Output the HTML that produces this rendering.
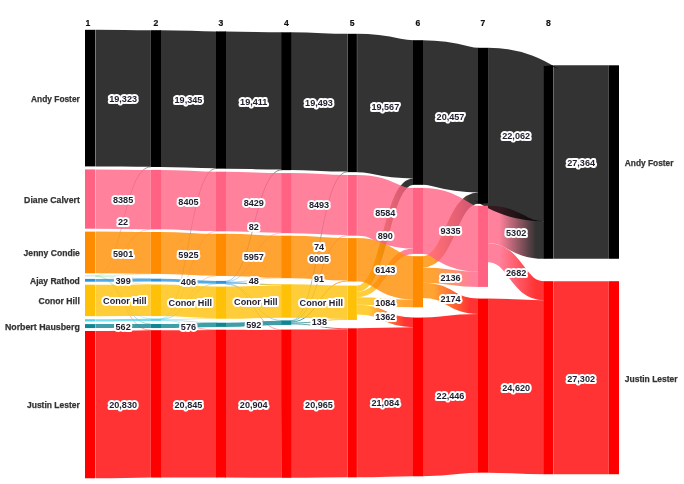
<!DOCTYPE html>
<html lang="en"><head><meta charset="utf-8"><title>Sankey</title>
<style>html,body{margin:0;padding:0;background:#fff}body{width:684px;height:484px;overflow:hidden}svg{display:block}text{font-family:"Liberation Sans",sans-serif;font-weight:bold}.nm{font-size:8.7px;fill:#333;stroke:#333;stroke-width:0.25}.cl{font-size:8.6px;fill:#111;stroke:#111;stroke-width:0.2}.lb{font-size:9.1px;fill:#1f1f2e;stroke:#fff;stroke-width:4;stroke-linejoin:round;paint-order:stroke}</style></head><body>
<svg width="684" height="484" viewBox="0 0 684 484">
<rect width="684" height="484" fill="#fff"/>
<defs>
<linearGradient id="g0TA" gradientUnits="userSpaceOnUse" x1="95.35" y1="0.00" x2="150.90" y2="0.00"><stop offset="0.2" stop-color="#a5e6b4"/><stop offset="0.85" stop-color="#000000"/></linearGradient>
<linearGradient id="g0TD" gradientUnits="userSpaceOnUse" x1="95.35" y1="0.00" x2="150.90" y2="0.00"><stop offset="0.2" stop-color="#a5e6b4"/><stop offset="0.85" stop-color="#ff6283"/></linearGradient>
<linearGradient id="g0TJ" gradientUnits="userSpaceOnUse" x1="95.35" y1="0.00" x2="150.90" y2="0.00"><stop offset="0.2" stop-color="#a5e6b4"/><stop offset="0.85" stop-color="#ff8c00"/></linearGradient>
<linearGradient id="g0TR" gradientUnits="userSpaceOnUse" x1="95.35" y1="0.00" x2="150.90" y2="0.00"><stop offset="0.2" stop-color="#a5e6b4"/><stop offset="0.85" stop-color="#2b96de"/></linearGradient>
<linearGradient id="g0TC" gradientUnits="userSpaceOnUse" x1="95.35" y1="0.00" x2="150.90" y2="0.00"><stop offset="0.2" stop-color="#a5e6b4"/><stop offset="0.85" stop-color="#ffc107"/></linearGradient>
<linearGradient id="g0TY" gradientUnits="userSpaceOnUse" x1="95.35" y1="0.00" x2="150.90" y2="0.00"><stop offset="0.2" stop-color="#a5e6b4"/><stop offset="0.85" stop-color="#55d3e6"/></linearGradient>
<linearGradient id="g0TN" gradientUnits="userSpaceOnUse" x1="95.35" y1="0.00" x2="150.90" y2="0.00"><stop offset="0.2" stop-color="#a5e6b4"/><stop offset="0.85" stop-color="#0f8793"/></linearGradient>
<linearGradient id="g0TL" gradientUnits="userSpaceOnUse" x1="95.35" y1="0.00" x2="150.90" y2="0.00"><stop offset="0.2" stop-color="#a5e6b4"/><stop offset="0.85" stop-color="#ff0000"/></linearGradient>
<linearGradient id="g1YA" gradientUnits="userSpaceOnUse" x1="160.50" y1="0.00" x2="216.40" y2="0.00"><stop offset="0.2" stop-color="#55d3e6"/><stop offset="0.85" stop-color="#000000"/></linearGradient>
<linearGradient id="g1YD" gradientUnits="userSpaceOnUse" x1="160.50" y1="0.00" x2="216.40" y2="0.00"><stop offset="0.2" stop-color="#55d3e6"/><stop offset="0.85" stop-color="#ff6283"/></linearGradient>
<linearGradient id="g1YJ" gradientUnits="userSpaceOnUse" x1="160.50" y1="0.00" x2="216.40" y2="0.00"><stop offset="0.2" stop-color="#55d3e6"/><stop offset="0.85" stop-color="#ff8c00"/></linearGradient>
<linearGradient id="g1YR" gradientUnits="userSpaceOnUse" x1="160.50" y1="0.00" x2="216.40" y2="0.00"><stop offset="0.2" stop-color="#55d3e6"/><stop offset="0.85" stop-color="#2b96de"/></linearGradient>
<linearGradient id="g1YC" gradientUnits="userSpaceOnUse" x1="160.50" y1="0.00" x2="216.40" y2="0.00"><stop offset="0.2" stop-color="#55d3e6"/><stop offset="0.85" stop-color="#ffc107"/></linearGradient>
<linearGradient id="g1YN" gradientUnits="userSpaceOnUse" x1="160.50" y1="0.00" x2="216.40" y2="0.00"><stop offset="0.2" stop-color="#55d3e6"/><stop offset="0.85" stop-color="#0f8793"/></linearGradient>
<linearGradient id="g1YL" gradientUnits="userSpaceOnUse" x1="160.50" y1="0.00" x2="216.40" y2="0.00"><stop offset="0.2" stop-color="#55d3e6"/><stop offset="0.85" stop-color="#ff0000"/></linearGradient>
<linearGradient id="g2RA" gradientUnits="userSpaceOnUse" x1="225.50" y1="0.00" x2="282.00" y2="0.00"><stop offset="0.2" stop-color="#2b96de"/><stop offset="0.85" stop-color="#000000"/></linearGradient>
<linearGradient id="g2RD" gradientUnits="userSpaceOnUse" x1="225.50" y1="0.00" x2="282.00" y2="0.00"><stop offset="0.2" stop-color="#2b96de"/><stop offset="0.85" stop-color="#ff6283"/></linearGradient>
<linearGradient id="g2RJ" gradientUnits="userSpaceOnUse" x1="225.50" y1="0.00" x2="282.00" y2="0.00"><stop offset="0.2" stop-color="#2b96de"/><stop offset="0.85" stop-color="#ff8c00"/></linearGradient>
<linearGradient id="g2RC" gradientUnits="userSpaceOnUse" x1="225.50" y1="0.00" x2="282.00" y2="0.00"><stop offset="0.2" stop-color="#2b96de"/><stop offset="0.85" stop-color="#ffc107"/></linearGradient>
<linearGradient id="g2RN" gradientUnits="userSpaceOnUse" x1="225.50" y1="0.00" x2="282.00" y2="0.00"><stop offset="0.2" stop-color="#2b96de"/><stop offset="0.85" stop-color="#0f8793"/></linearGradient>
<linearGradient id="g2RL" gradientUnits="userSpaceOnUse" x1="225.50" y1="0.00" x2="282.00" y2="0.00"><stop offset="0.2" stop-color="#2b96de"/><stop offset="0.85" stop-color="#ff0000"/></linearGradient>
<linearGradient id="g3NA" gradientUnits="userSpaceOnUse" x1="290.70" y1="0.00" x2="347.35" y2="0.00"><stop offset="0.2" stop-color="#0f8793"/><stop offset="0.85" stop-color="#000000"/></linearGradient>
<linearGradient id="g3ND" gradientUnits="userSpaceOnUse" x1="290.70" y1="0.00" x2="347.35" y2="0.00"><stop offset="0.2" stop-color="#0f8793"/><stop offset="0.85" stop-color="#ff6283"/></linearGradient>
<linearGradient id="g3NJ" gradientUnits="userSpaceOnUse" x1="290.70" y1="0.00" x2="347.35" y2="0.00"><stop offset="0.2" stop-color="#0f8793"/><stop offset="0.85" stop-color="#ff8c00"/></linearGradient>
<linearGradient id="g3NC" gradientUnits="userSpaceOnUse" x1="290.70" y1="0.00" x2="347.35" y2="0.00"><stop offset="0.2" stop-color="#0f8793"/><stop offset="0.85" stop-color="#ffc107"/></linearGradient>
<linearGradient id="g3NL" gradientUnits="userSpaceOnUse" x1="290.70" y1="0.00" x2="347.35" y2="0.00"><stop offset="0.2" stop-color="#0f8793"/><stop offset="0.85" stop-color="#ff0000"/></linearGradient>
<linearGradient id="g4CA" gradientUnits="userSpaceOnUse" x1="357.10" y1="0.00" x2="413.50" y2="0.00"><stop offset="0.2" stop-color="#ffc107"/><stop offset="0.85" stop-color="#000000"/></linearGradient>
<linearGradient id="g4CD" gradientUnits="userSpaceOnUse" x1="357.10" y1="0.00" x2="413.50" y2="0.00"><stop offset="0.2" stop-color="#ffc107"/><stop offset="0.85" stop-color="#ff6283"/></linearGradient>
<linearGradient id="g4CJ" gradientUnits="userSpaceOnUse" x1="357.10" y1="0.00" x2="413.50" y2="0.00"><stop offset="0.2" stop-color="#ffc107"/><stop offset="0.85" stop-color="#ff8c00"/></linearGradient>
<linearGradient id="g4CL" gradientUnits="userSpaceOnUse" x1="357.10" y1="0.00" x2="413.50" y2="0.00"><stop offset="0.2" stop-color="#ffc107"/><stop offset="0.85" stop-color="#ff0000"/></linearGradient>
<linearGradient id="g5JA" gradientUnits="userSpaceOnUse" x1="422.50" y1="0.00" x2="478.50" y2="0.00"><stop offset="0.2" stop-color="#ff8c00"/><stop offset="0.85" stop-color="#000000"/></linearGradient>
<linearGradient id="g5JD" gradientUnits="userSpaceOnUse" x1="422.50" y1="0.00" x2="478.50" y2="0.00"><stop offset="0.2" stop-color="#ff8c00"/><stop offset="0.85" stop-color="#ff6283"/></linearGradient>
<linearGradient id="g5JL" gradientUnits="userSpaceOnUse" x1="422.50" y1="0.00" x2="478.50" y2="0.00"><stop offset="0.2" stop-color="#ff8c00"/><stop offset="0.85" stop-color="#ff0000"/></linearGradient>
<linearGradient id="g6DA" gradientUnits="userSpaceOnUse" x1="488.05" y1="0.00" x2="544.30" y2="0.00"><stop offset="0.2" stop-color="#ff6283"/><stop offset="0.85" stop-color="#000000"/></linearGradient>
<linearGradient id="g6DL" gradientUnits="userSpaceOnUse" x1="488.05" y1="0.00" x2="544.30" y2="0.00"><stop offset="0.2" stop-color="#ff6283"/><stop offset="0.85" stop-color="#ff0000"/></linearGradient>
</defs>
<g fill="none" stroke-opacity="0.8">
<path d="M95.35,275.58C123.12,275.58 123.12,166.89 150.90,166.89" stroke="url(#g0TA)" stroke-width="0.45"/>
<path d="M95.35,275.73C123.12,275.73 123.12,229.25 150.90,229.25" stroke="url(#g0TD)" stroke-width="0.45"/>
<path d="M95.35,275.88C123.12,275.88 123.12,273.80 150.90,273.80" stroke="url(#g0TJ)" stroke-width="0.45"/>
<path d="M95.35,275.99C123.12,275.99 123.12,278.72 150.90,278.72" stroke="url(#g0TR)" stroke-width="0.45"/>
<path d="M95.35,276.07C123.12,276.07 123.12,284.55 150.90,284.55" stroke="url(#g0TC)" stroke-width="0.45"/>
<path d="M95.35,276.14C123.12,276.14 123.12,318.62 150.90,318.62" stroke="url(#g0TY)" stroke-width="0.45"/>
<path d="M95.35,276.21C123.12,276.21 123.12,324.05 150.90,324.05" stroke="url(#g0TN)" stroke-width="0.45"/>
<path d="M95.35,276.31C123.12,276.31 123.12,330.25 150.90,330.25" stroke="url(#g0TL)" stroke-width="0.45"/>
<path d="M160.50,318.83C188.45,318.83 188.45,168.40 216.40,168.40" stroke="url(#g1YA)" stroke-width="0.47"/>
<path d="M160.50,319.15C188.45,319.15 188.45,231.21 216.40,231.21" stroke="url(#g1YD)" stroke-width="0.45"/>
<path d="M160.50,319.35C188.45,319.35 188.45,275.80 216.40,275.80" stroke="url(#g1YJ)" stroke-width="0.45"/>
<path d="M160.50,319.48C188.45,319.48 188.45,283.79 216.40,283.79" stroke="url(#g1YR)" stroke-width="0.45"/>
<path d="M160.50,319.77C188.45,319.77 188.45,318.43 216.40,318.43" stroke="url(#g1YC)" stroke-width="0.53"/>
<path d="M95.35,320.33C123.12,320.33 123.12,319.77 150.90,319.77" stroke="#55d3e6" stroke-width="2.26"/>
<path d="M160.50,320.09C188.45,320.09 188.45,322.76 216.40,322.76" stroke="url(#g1YN)" stroke-width="0.45"/>
<path d="M160.50,320.36C188.45,320.36 188.45,329.91 216.40,329.91" stroke="url(#g1YL)" stroke-width="0.45"/>
<path d="M225.50,281.19C253.75,281.19 253.75,169.83 282.00,169.83" stroke="url(#g2RA)" stroke-width="0.58"/>
<path d="M225.50,281.71C253.75,281.71 253.75,232.92 282.00,232.92" stroke="url(#g2RD)" stroke-width="0.45"/>
<path d="M225.50,282.10C253.75,282.10 253.75,277.99 282.00,277.99" stroke="url(#g2RJ)" stroke-width="0.45"/>
<path d="M95.35,280.31C123.12,280.31 123.12,280.16 150.90,280.16" stroke="#2b96de" stroke-width="2.82"/>
<path d="M160.50,280.14C188.45,280.14 188.45,282.34 216.40,282.34" stroke="#2b96de" stroke-width="2.87"/>
<path d="M225.50,282.91C253.75,282.91 253.75,284.94 282.00,284.94" stroke="url(#g2RC)" stroke-width="1.27"/>
<path d="M225.50,283.71C253.75,283.71 253.75,320.57 282.00,320.57" stroke="url(#g2RN)" stroke-width="0.45"/>
<path d="M225.50,284.10C253.75,284.10 253.75,329.82 282.00,329.82" stroke="url(#g2RL)" stroke-width="0.45"/>
<path d="M290.70,320.66C319.02,320.66 319.02,171.88 347.35,171.88" stroke="url(#g3NA)" stroke-width="0.52"/>
<path d="M290.70,321.24C319.02,321.24 319.02,235.37 347.35,235.37" stroke="url(#g3ND)" stroke-width="0.64"/>
<path d="M290.70,322.05C319.02,322.05 319.02,281.04 347.35,281.04" stroke="url(#g3NJ)" stroke-width="0.98"/>
<path d="M290.70,323.03C319.02,323.03 319.02,319.46 347.35,319.46" stroke="url(#g3NC)" stroke-width="0.98"/>
<path d="M95.35,326.09C123.12,326.09 123.12,326.09 150.90,326.09" stroke="#0f8793" stroke-width="3.97"/>
<path d="M160.50,326.04C188.45,326.04 188.45,324.85 216.40,324.85" stroke="#0f8793" stroke-width="4.07"/>
<path d="M225.50,324.79C253.75,324.79 253.75,322.83 282.00,322.83" stroke="#0f8793" stroke-width="4.19"/>
<path d="M290.70,323.94C319.02,323.94 319.02,328.72 347.35,328.72" stroke="url(#g3NL)" stroke-width="0.84"/>
<path d="M357.10,288.75C385.30,288.75 385.30,181.68 413.50,181.68" stroke="url(#g4CA)" stroke-width="6.29"/>
<path d="M357.10,294.55C385.30,294.55 385.30,251.24 413.50,251.24" stroke="url(#g4CD)" stroke-width="5.31"/>
<path d="M357.10,301.03C385.30,301.03 385.30,303.46 413.50,303.46" stroke="url(#g4CJ)" stroke-width="7.66"/>
<path d="M95.35,300.43C123.12,300.43 123.12,300.34 150.90,300.34" stroke="#ffc107" stroke-width="31.46"/>
<path d="M160.50,300.28C188.45,300.28 188.45,302.38 216.40,302.38" stroke="#ffc107" stroke-width="31.57"/>
<path d="M225.50,302.65C253.75,302.65 253.75,301.62 282.00,301.62" stroke="#ffc107" stroke-width="32.10"/>
<path d="M290.70,300.99C319.02,300.99 319.02,302.29 347.35,302.29" stroke="#ffc107" stroke-width="33.37"/>
<path d="M357.10,309.68C385.30,309.68 385.30,322.41 413.50,322.41" stroke="url(#g4CL)" stroke-width="9.63"/>
<path d="M422.50,261.87C450.50,261.87 450.50,198.10 478.50,198.10" stroke="url(#g5JA)" stroke-width="11.35"/>
<path d="M422.50,275.10C450.50,275.10 450.50,279.35 478.50,279.35" stroke="url(#g5JD)" stroke-width="15.10"/>
<path d="M95.35,252.46C123.12,252.46 123.12,252.86 150.90,252.86" stroke="#ff8c00" stroke-width="41.72"/>
<path d="M160.50,252.94C188.45,252.94 188.45,254.74 216.40,254.74" stroke="#ff8c00" stroke-width="41.89"/>
<path d="M225.50,254.86C253.75,254.86 253.75,256.76 282.00,256.76" stroke="#ff8c00" stroke-width="42.12"/>
<path d="M290.70,256.93C319.02,256.93 319.02,259.33 347.35,259.33" stroke="#ff8c00" stroke-width="42.46"/>
<path d="M357.10,259.82C385.30,259.82 385.30,277.92 413.50,277.92" stroke="#ff8c00" stroke-width="43.43"/>
<path d="M422.50,290.33C450.50,290.33 450.50,306.29 478.50,306.29" stroke="url(#g5JL)" stroke-width="15.37"/>
<path d="M488.05,224.54C516.17,224.54 516.17,240.02 544.30,240.02" stroke="url(#g6DA)" stroke-width="37.49"/>
<path d="M95.35,199.04C123.12,199.04 123.12,199.54 150.90,199.54" stroke="#ff6283" stroke-width="59.28"/>
<path d="M160.50,199.61C188.45,199.61 188.45,201.41 216.40,201.41" stroke="#ff6283" stroke-width="59.42"/>
<path d="M225.50,201.50C253.75,201.50 253.75,202.90 282.00,202.90" stroke="#ff6283" stroke-width="59.59"/>
<path d="M290.70,203.12C319.02,203.12 319.02,205.02 347.35,205.02" stroke="#ff6283" stroke-width="60.05"/>
<path d="M357.10,205.34C385.30,205.34 385.30,218.24 413.50,218.24" stroke="#ff6283" stroke-width="60.69"/>
<path d="M422.50,220.90C450.50,220.90 450.50,238.80 478.50,238.80" stroke="#ff6283" stroke-width="66.00"/>
<path d="M488.05,252.77C516.17,252.77 516.17,290.68 544.30,290.68" stroke="url(#g6DL)" stroke-width="18.96"/>
<path d="M95.35,404.63C123.12,404.63 123.12,403.94 150.90,403.94" stroke="#ff0000" stroke-width="147.27"/>
<path d="M160.50,403.89C188.45,403.89 188.45,403.80 216.40,403.80" stroke="#ff0000" stroke-width="147.37"/>
<path d="M225.50,403.60C253.75,403.60 253.75,403.93 282.00,403.93" stroke="#ff0000" stroke-width="147.79"/>
<path d="M290.70,403.71C319.02,403.71 319.02,403.25 347.35,403.25" stroke="#ff0000" stroke-width="148.22"/>
<path d="M357.10,402.83C385.30,402.83 385.30,401.76 413.50,401.76" stroke="#ff0000" stroke-width="149.06"/>
<path d="M422.50,396.95C450.50,396.95 450.50,393.32 478.50,393.32" stroke="#ff0000" stroke-width="158.69"/>
<path d="M488.05,385.63C516.17,385.63 516.17,387.19 544.30,387.19" stroke="#ff0000" stroke-width="174.06"/>
<path d="M553.40,377.71C581.14,377.71 581.14,377.71 608.88,377.71" stroke="#ff0000" stroke-width="193.03"/>
<path d="M95.35,98.11C123.12,98.11 123.12,98.51 150.90,98.51" stroke="#000000" stroke-width="136.61"/>
<path d="M160.50,98.58C188.45,98.58 188.45,99.78 216.40,99.78" stroke="#000000" stroke-width="136.77"/>
<path d="M225.50,100.02C253.75,100.02 253.75,100.92 282.00,100.92" stroke="#000000" stroke-width="137.24"/>
<path d="M290.70,101.21C319.02,101.21 319.02,102.71 347.35,102.71" stroke="#000000" stroke-width="137.82"/>
<path d="M357.10,102.97C385.30,102.97 385.30,109.37 413.50,109.37" stroke="#000000" stroke-width="138.34"/>
<path d="M422.50,112.52C450.50,112.52 450.50,120.12 478.50,120.12" stroke="#000000" stroke-width="144.63"/>
<path d="M488.05,125.79C516.17,125.79 516.17,143.29 544.30,143.29" stroke="#000000" stroke-width="155.98"/>
<path d="M553.40,162.03C581.14,162.03 581.14,162.03 608.88,162.03" stroke="#000000" stroke-width="193.46"/>
</g>
<g>
<rect x="85.00" y="29.80" width="10.00" height="136.61" fill="#000000"/>
<rect x="85.00" y="169.40" width="10.00" height="59.28" fill="#ff6283"/>
<rect x="85.00" y="231.60" width="10.00" height="41.72" fill="#ff8c00"/>
<rect x="85.00" y="275.50" width="10.00" height="0.78" fill="#a5e6b4"/>
<rect x="85.00" y="278.90" width="10.00" height="2.82" fill="#2b96de"/>
<rect x="85.00" y="284.70" width="10.00" height="31.46" fill="#ffc107"/>
<rect x="85.00" y="319.20" width="10.00" height="2.26" fill="#55d3e6"/>
<rect x="85.00" y="324.10" width="10.00" height="3.97" fill="#0f8793"/>
<rect x="85.00" y="331.00" width="10.00" height="147.27" fill="#ff0000"/>
<rect x="151.00" y="30.20" width="10.00" height="136.77" fill="#000000"/>
<rect x="151.00" y="169.90" width="10.00" height="59.42" fill="#ff6283"/>
<rect x="151.00" y="232.00" width="10.00" height="41.89" fill="#ff8c00"/>
<rect x="151.00" y="278.70" width="10.00" height="2.87" fill="#2b96de"/>
<rect x="151.00" y="284.50" width="10.00" height="31.57" fill="#ffc107"/>
<rect x="151.00" y="318.60" width="10.00" height="2.30" fill="#55d3e6"/>
<rect x="151.00" y="324.00" width="10.00" height="4.07" fill="#0f8793"/>
<rect x="151.00" y="330.20" width="10.00" height="147.37" fill="#ff0000"/>
<rect x="216.00" y="31.40" width="10.00" height="137.24" fill="#000000"/>
<rect x="216.00" y="171.70" width="10.00" height="59.59" fill="#ff6283"/>
<rect x="216.00" y="233.80" width="10.00" height="42.12" fill="#ff8c00"/>
<rect x="216.00" y="280.90" width="10.00" height="2.91" fill="#2b96de"/>
<rect x="216.00" y="286.60" width="10.00" height="32.10" fill="#ffc107"/>
<rect x="216.00" y="322.70" width="10.00" height="4.19" fill="#0f8793"/>
<rect x="216.00" y="329.70" width="10.00" height="147.79" fill="#ff0000"/>
<rect x="281.50" y="32.30" width="9.70" height="137.82" fill="#000000"/>
<rect x="281.50" y="173.10" width="9.70" height="60.05" fill="#ff6283"/>
<rect x="281.50" y="235.70" width="9.70" height="42.46" fill="#ff8c00"/>
<rect x="281.50" y="284.30" width="9.70" height="33.37" fill="#ffc107"/>
<rect x="281.50" y="320.40" width="9.70" height="4.52" fill="#0f8793"/>
<rect x="281.50" y="329.60" width="9.70" height="148.22" fill="#ff0000"/>
<rect x="347.50" y="33.80" width="9.40" height="138.34" fill="#000000"/>
<rect x="347.50" y="175.00" width="9.40" height="60.69" fill="#ff6283"/>
<rect x="347.50" y="238.10" width="9.40" height="43.43" fill="#ff8c00"/>
<rect x="347.50" y="285.60" width="9.40" height="34.35" fill="#ffc107"/>
<rect x="347.50" y="328.30" width="9.40" height="149.06" fill="#ff0000"/>
<rect x="413.00" y="40.20" width="10.00" height="144.63" fill="#000000"/>
<rect x="413.00" y="187.90" width="10.00" height="66.00" fill="#ff6283"/>
<rect x="413.00" y="256.20" width="10.00" height="51.09" fill="#ff8c00"/>
<rect x="413.00" y="317.60" width="10.00" height="158.69" fill="#ff0000"/>
<rect x="478.00" y="47.80" width="10.00" height="155.98" fill="#000000"/>
<rect x="478.00" y="205.80" width="10.00" height="81.10" fill="#ff6283"/>
<rect x="478.00" y="298.60" width="10.00" height="174.06" fill="#ff0000"/>
<rect x="543.80" y="65.30" width="9.40" height="193.46" fill="#000000"/>
<rect x="543.80" y="281.20" width="9.40" height="193.03" fill="#ff0000"/>
<rect x="609.00" y="65.30" width="10.00" height="193.46" fill="#000000"/>
<rect x="609.00" y="281.20" width="10.00" height="193.03" fill="#ff0000"/>
</g>
<text class="cl" x="88.00" y="25.90" text-anchor="middle">1</text>
<text class="cl" x="156.00" y="25.90" text-anchor="middle">2</text>
<text class="cl" x="221.00" y="25.90" text-anchor="middle">3</text>
<text class="cl" x="286.35" y="25.90" text-anchor="middle">4</text>
<text class="cl" x="352.20" y="25.90" text-anchor="middle">5</text>
<text class="cl" x="418.00" y="25.90" text-anchor="middle">6</text>
<text class="cl" x="483.00" y="25.90" text-anchor="middle">7</text>
<text class="cl" x="548.50" y="25.90" text-anchor="middle">8</text>
<text class="nm" x="79.80" y="101.81" text-anchor="end" textLength="48.7" lengthAdjust="spacingAndGlyphs">Andy Foster</text>
<text class="nm" x="79.80" y="202.74" text-anchor="end" textLength="55.7" lengthAdjust="spacingAndGlyphs">Diane Calvert</text>
<text class="nm" x="79.80" y="256.16" text-anchor="end" textLength="56.2" lengthAdjust="spacingAndGlyphs">Jenny Condie</text>
<text class="nm" x="79.80" y="284.01" text-anchor="end" textLength="49.7" lengthAdjust="spacingAndGlyphs">Ajay Rathod</text>
<text class="nm" x="79.80" y="304.13" text-anchor="end" textLength="41.3" lengthAdjust="spacingAndGlyphs">Conor Hill</text>
<text class="nm" x="79.80" y="329.79" text-anchor="end" textLength="74.9" lengthAdjust="spacingAndGlyphs">Norbert Hausberg</text>
<text class="nm" x="79.80" y="408.33" text-anchor="end" textLength="52.8" lengthAdjust="spacingAndGlyphs">Justin Lester</text>
<text class="nm" x="624.80" y="166.13" textLength="48.7" lengthAdjust="spacingAndGlyphs">Andy Foster</text>
<text class="nm" x="624.80" y="381.81" textLength="52.8" lengthAdjust="spacingAndGlyphs">Justin Lester</text>
<text class="lb" x="123.12" y="102.41" text-anchor="middle">19,323</text>
<text class="lb" x="123.12" y="203.39" text-anchor="middle">8385</text>
<text class="lb" x="123.12" y="256.76" text-anchor="middle">5901</text>
<text class="lb" x="123.12" y="225.33" text-anchor="middle">22</text>
<text class="lb" x="123.12" y="284.34" text-anchor="middle">399</text>
<text class="lb" x="124.85" y="304.00" text-anchor="middle">Conor Hill</text>
<text class="lb" x="123.12" y="330.19" text-anchor="middle">562</text>
<text class="lb" x="123.12" y="408.39" text-anchor="middle">20,830</text>
<text class="lb" x="188.45" y="103.28" text-anchor="middle">19,345</text>
<text class="lb" x="188.45" y="204.61" text-anchor="middle">8405</text>
<text class="lb" x="188.45" y="257.94" text-anchor="middle">5925</text>
<text class="lb" x="188.45" y="285.34" text-anchor="middle">406</text>
<text class="lb" x="190.30" y="306.40" text-anchor="middle">Conor Hill</text>
<text class="lb" x="188.45" y="329.54" text-anchor="middle">576</text>
<text class="lb" x="188.45" y="407.95" text-anchor="middle">20,845</text>
<text class="lb" x="253.75" y="104.57" text-anchor="middle">19,411</text>
<text class="lb" x="253.75" y="206.30" text-anchor="middle">8429</text>
<text class="lb" x="253.75" y="259.91" text-anchor="middle">5957</text>
<text class="lb" x="253.75" y="229.61" text-anchor="middle">82</text>
<text class="lb" x="253.75" y="284.14" text-anchor="middle">48</text>
<text class="lb" x="255.85" y="305.20" text-anchor="middle">Conor Hill</text>
<text class="lb" x="253.75" y="327.91" text-anchor="middle">592</text>
<text class="lb" x="253.75" y="407.86" text-anchor="middle">20,904</text>
<text class="lb" x="319.02" y="106.06" text-anchor="middle">19,493</text>
<text class="lb" x="319.02" y="208.17" text-anchor="middle">8493</text>
<text class="lb" x="319.02" y="262.23" text-anchor="middle">6005</text>
<text class="lb" x="321.30" y="306.40" text-anchor="middle">Conor Hill</text>
<text class="lb" x="319.02" y="250.37" text-anchor="middle">74</text>
<text class="lb" x="319.02" y="282.41" text-anchor="middle">91</text>
<text class="lb" x="319.40" y="325.30" text-anchor="middle">138</text>
<text class="lb" x="319.02" y="407.58" text-anchor="middle">20,965</text>
<text class="lb" x="385.30" y="110.27" text-anchor="middle">19,567</text>
<text class="lb" x="385.30" y="215.89" text-anchor="middle">8584</text>
<text class="lb" x="385.30" y="272.97" text-anchor="middle">6143</text>
<text class="lb" x="385.30" y="239.32" text-anchor="middle">890</text>
<text class="lb" x="385.30" y="306.35" text-anchor="middle">1084</text>
<text class="lb" x="385.30" y="320.15" text-anchor="middle">1362</text>
<text class="lb" x="385.30" y="406.40" text-anchor="middle">21,084</text>
<text class="lb" x="450.50" y="120.42" text-anchor="middle">20,457</text>
<text class="lb" x="450.50" y="233.95" text-anchor="middle">9335</text>
<text class="lb" x="450.50" y="281.32" text-anchor="middle">2136</text>
<text class="lb" x="450.50" y="302.41" text-anchor="middle">2174</text>
<text class="lb" x="450.50" y="399.23" text-anchor="middle">22,446</text>
<text class="lb" x="516.17" y="138.64" text-anchor="middle">22,062</text>
<text class="lb" x="516.17" y="236.38" text-anchor="middle">5302</text>
<text class="lb" x="516.17" y="275.82" text-anchor="middle">2682</text>
<text class="lb" x="516.17" y="390.51" text-anchor="middle">24,620</text>
<text class="lb" x="581.14" y="166.13" text-anchor="middle">27,364</text>
<text class="lb" x="581.14" y="381.81" text-anchor="middle">27,302</text>
</svg></body></html>
